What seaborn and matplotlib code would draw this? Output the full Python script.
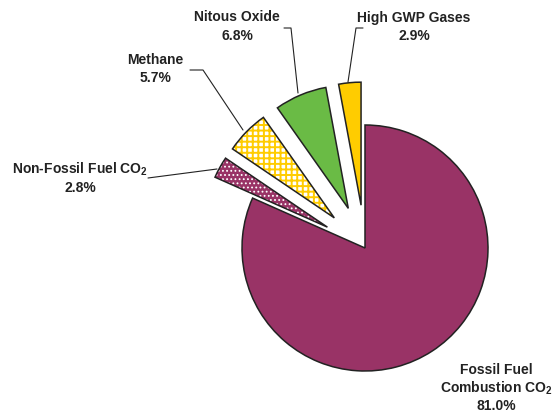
import matplotlib
matplotlib.use("Agg")
import matplotlib.pyplot as plt
import seaborn as sns

categories = ["Fossil Fuel\nCombustion CO$_2$", "Non-Fossil Fuel CO$_2$", "Methane",
              "Nitous Oxide", "High GWP Gases"]
values = [81.0, 2.8, 5.7, 6.8, 2.9]
pct_labels = ["81.0%", "2.8%", "5.7%", "6.8%", "2.9%"]

fill_colors = ["#993366", "#993366", "#ffffff", "#6abb45", "#ffcc00"]
hatch_colors = ["#993366", "#ffffff", "#ffcc00", "#6abb45", "#ffcc00"]
hatches = [None, "....", "+++", None, None]
hatch_widths = [1.0, 0.8, 1.4, 1.0, 1.0]

sns.set_theme(style="white")
plt.rcParams["font.family"] = ["Liberation Sans", "DejaVu Sans"]
plt.rcParams["mathtext.fontset"] = "custom"
plt.rcParams["mathtext.rm"] = "Liberation Sans:bold"
plt.rcParams["mathtext.default"] = "rm"
plt.rcParams["hatch.linewidth"] = 1.2

fig = plt.figure(figsize=(5.56, 4.16), dpi=100)
ax = fig.add_axes([0, 0, 1, 1])

H = 416
center = (365, H - 248)
radius = 123
exp_dist = 43
explode = [0, exp_dist, exp_dist, exp_dist, exp_dist]

wedges, _ = ax.pie(values, explode=explode, colors=fill_colors, startangle=90,
                   counterclock=False, center=center, radius=radius, frame=True,
                   wedgeprops=dict(linewidth=0))
for w, h, hc, hw in zip(wedges, hatches, hatch_colors, hatch_widths):
    w.set_edgecolor(hc)
    if h:
        w.set_hatch(h)
        if hasattr(w, "set_hatch_linewidth"):
            w.set_hatch_linewidth(hw)
ax.pie(values, explode=explode, colors=["none"] * 5, startangle=90,
       counterclock=False, center=center, radius=radius, frame=True,
       wedgeprops=dict(linewidth=1.1, edgecolor="#222222", facecolor="none"))
ax.set_xlim(0, 556)
ax.set_ylim(0, H)
ax.set_aspect("equal")
ax.axis("off")

tc = "#222222"
fs = 10
def label(x, y, name, pct, ls=1.4):
    ax.text(x, H - y, name + "\n" + pct, ha="center", va="center", fontsize=fs,
            fontweight="bold", color=tc, linespacing=ls)

label(80, 177.5, categories[1], pct_labels[1], 1.3)
label(155, 69, categories[2], pct_labels[2])
label(237, 26.5, categories[3], pct_labels[3])
label(414, 27, categories[4], pct_labels[4])
label(496, 388, categories[0], pct_labels[0], 1.2)

def leader(pts):
    xs = [p[0] for p in pts]
    ys = [H - p[1] for p in pts]
    ax.plot(xs, ys, color="#222222", linewidth=0.8)

leader([(148, 178), (217, 169)])
leader([(190, 70), (203, 70), (243, 130)])
leader([(284, 28), (291, 28), (298, 93)])
leader([(363, 28), (356, 28), (348, 82)])

fig.savefig("out.png", dpi=100)
